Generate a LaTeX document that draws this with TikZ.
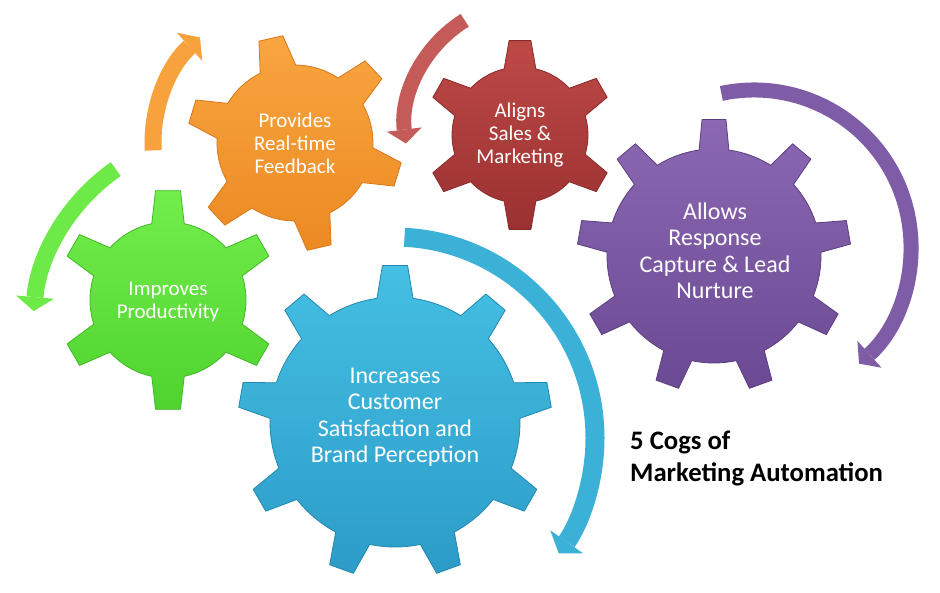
\documentclass[tikz,border=0pt]{standalone}
\usepackage{fontspec}
\setmainfont{Carlito}
\usetikzlibrary{arrows.meta}

\definecolor{fbtop}{HTML}{F9A540}
\definecolor{fbbot}{HTML}{EC8A22}
\definecolor{fbedge}{HTML}{D9771A}
\definecolor{altop}{HTML}{BD4946}
\definecolor{albot}{HTML}{9B3131}
\definecolor{aledge}{HTML}{8A2A2A}
\definecolor{imtop}{HTML}{72EE4C}
\definecolor{imbot}{HTML}{4FD32F}
\definecolor{imedge}{HTML}{3FB824}
\definecolor{cstop}{HTML}{45BFE4}
\definecolor{csbot}{HTML}{2C9CC7}
\definecolor{csedge}{HTML}{2388B0}
\definecolor{rctop}{HTML}{8C68B2}
\definecolor{rcbot}{HTML}{6B4A93}
\definecolor{rcedge}{HTML}{5C3E82}

% cog: centre, teeth, first tooth angle, body radius, tip radius,
% half angle at the base of a tooth, half angle at its tip, style
\newcommand{\cog}[8]{%
  \begin{scope}[shift={(#1)}]
    \path[#8] ({#3-#6}:#4)
      \foreach \k [evaluate=\k as \a using #3+(\k-1)*360/#2] in {1,...,#2}{
        -- ({\a-#7}:#5) -- ({\a+#7}:#5) -- ({\a+#6}:#4)
        arc[start angle={\a+#6}, end angle={\a+360/#2-#6}, radius=#4]
      } -- cycle;
  \end{scope}}

\tikzset{
  cogbody/.style 2 args={top color=#1top, bottom color=#1bot, draw=#1edge, line width=#2, line join=round},
  cogtext/.style={text=white, align=center, inner sep=0pt, font=\fontsize{21}{23}\selectfont},
  bigtext/.style={cogtext, font=\fontsize{24}{26.5}\selectfont},
  band/.style={line width=#1},
  head/.style={-{Triangle[length=14pt, width=#1, line width=0pt]}}
}

\begin{document}
\begin{tikzpicture}[x=1pt, y=1pt]
  \useasboundingbox (0,0) rectangle (940,-592);
  \fill[white] (0,0) rectangle (940,-592);

  \coordinate (im) at (168,-300);
  \coordinate (fb) at (295,-143);
  \coordinate (al) at (520,-135);
  \coordinate (cs) at (395,-422);
  \coordinate (rc) at (714,-256);

  % circular arrows
  \draw[band=17pt, head=38pt, color=fbtop!90!fbbot] (295,-143) ++(183:142) arc[start angle=183, end angle=132, radius=142];
  \draw[band=15pt, head=35pt, color=altop!90!white] (532,-128) ++(122:127) arc[start angle=122, end angle=187, radius=127];
  \draw[band=17pt, head=38pt, color=imtop!85!imbot] (227,-328) ++(125:194) arc[start angle=125, end angle=175, radius=194];
  \draw[band=19pt, head=40pt, color=cstop!60!csbot] (394,-438) ++(87:201) arc[start angle=87, end angle=-35, radius=201];
  \draw[band=15pt, head=36pt, color=rctop!60!rcbot] (754,-247) ++(102:157) arc[start angle=102, end angle=-48, radius=157];

  % cogs
  \cog{im}{6}{90}{78}{110}{12}{6.5}{cogbody={im}{0.8pt}}
  \cog{fb}{6}{103}{78}{108}{13.5}{6.5}{cogbody={fb}{0.8pt}}
  \cog{al}{6}{90}{68}{95}{13.5}{6.6}{cogbody={al}{0.8pt}}
  \cog{rc}{9}{90}{107}{137}{8}{5}{cogbody={rc}{0.8pt}}
  \cog{cs}{9}{90}{125}{157}{8.3}{4.6}{cogbody={cs}{0.8pt}}

  % labels
  \node[cogtext] (fbtext) at (295,-143) {Provides\\Real-time\\Feedback};
  \node[cogtext] (altext) at (520,-135) {Aligns\\Sales \&\\Marketing};
  \node[cogtext] (imtext) at (168,-302) {Improves\\Productivity};
  \node[bigtext] (cstext) at (395,-417) {Increases\\Customer\\Satisfaction and\\Brand Perception};
  \node[bigtext] (rctext) at (715,-251) {Allows\\Response\\Capture \& Lead\\Nurture};

  \node[anchor=base west, align=left, inner sep=0pt, font=\bfseries\fontsize{26.7}{32}\selectfont] (title) at (630,-481) {5 Cogs of\\Marketing Automation};
\end{tikzpicture}
\end{document}
